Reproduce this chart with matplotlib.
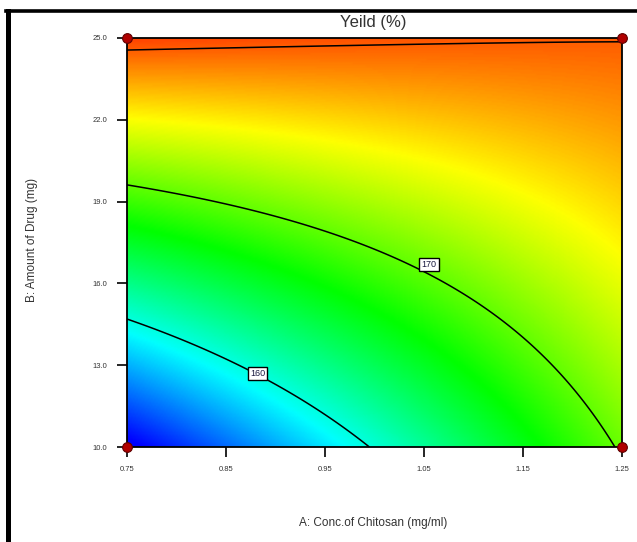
import numpy as np
import matplotlib
matplotlib.use("Agg")
import matplotlib.pyplot as plt
from matplotlib.colors import LinearSegmentedColormap
from matplotlib.lines import Line2D

plt.rcParams["font.family"] = ["Liberation Sans", "DejaVu Sans"]

# Response-surface model (coded units), fitted to contours
b0, bA, bB, bAB, bAA, bBB = 170.332, 4.769, 10.068, -5.170, 0.148, -0.058

x_range = [0.75, 1.25]
y_range = [10.0, 25.0]
x_ticks = [0.75, 0.85, 0.95, 1.05, 1.15, 1.25]
y_ticks = [10.0, 13.0, 16.0, 19.0, 22.0, 25.0]
levels = [160, 170, 180]
label_levels = [160, 170]
label_pos_x = [0.882, 1.055]
label_pos_y = [12.70, 16.70]
design_x = [0.75, 0.75, 1.25, 1.25]
design_y = [10.0, 25.0, 10.0, 25.0]

title = "Yeild (%)"
xlabel = "A: Conc.of Chitosan (mg/ml)"
ylabel = "B: Amount of Drug (mg)"

xg = np.linspace(x_range[0], x_range[1], 300)
yg = np.linspace(y_range[0], y_range[1], 300)
X, Y = np.meshgrid(xg, yg)
A = (X - 1.0) / 0.25
B = (Y - 17.5) / 7.5
Z = b0 + bA*A + bB*B + bAB*A*B + bAA*A*A + bBB*B*B

cmap = LinearSegmentedColormap.from_list(
    "de", [(0.0, "#0000ff"), (0.25, "#00ffff"), (0.5, "#00ff00"),
           (0.75, "#ffff00"), (1.0, "#ff0000")])

fig = plt.figure(figsize=(6.37, 5.42), dpi=100)
ax = fig.add_axes([127/637, 95/542, 495/637, 409/542])
ax.pcolormesh(X, Y, Z, cmap=cmap, vmin=151, vmax=183, shading="gouraud",
              rasterized=True)
ax.contour(X, Y, Z, levels=levels, colors="black", linewidths=1.1)
for lv, lx, ly in zip(label_levels, label_pos_x, label_pos_y):
    ax.text(lx, ly, str(lv), fontsize=6.5, color="#1a1a40", ha="center",
            va="center", zorder=5,
            bbox=dict(boxstyle="square,pad=0.25", fc="white", ec="black", lw=1))
ax.plot(design_x, design_y, "o", ms=7, mfc="#b00000", mec="#600000",
        mew=0.8, clip_on=False, zorder=6)

ax.set_xlim(x_range)
ax.set_ylim(y_range)
ax.set_xticks(x_ticks)
ax.set_xticklabels([f"{v:.2f}" for v in x_ticks])
ax.set_yticks(y_ticks)
ax.set_yticklabels([f"{v:.1f}" for v in y_ticks])
ax.tick_params(direction="out", length=7, width=1.2, labelsize=5.5,
               labelcolor="#333333", pad=7)
for s in ax.spines.values():
    s.set_linewidth(1.3)

fig.text(373/637, 1 - 22/542, title, fontsize=12, color="#333333",
         ha="center", va="center")
fig.text(373/637, 1 - 523/542, xlabel, fontsize=8.5, color="#333333",
         ha="center", va="center")
fig.text(32/637, 1 - 240/542, ylabel, fontsize=8.5, color="#333333",
         ha="center", va="center", rotation=90)

# outer frame (left and top)
fig.add_artist(Line2D([7.5/637, 7.5/637], [0, 1 - 11/542], color="black",
                      lw=3.6, transform=fig.transFigure))
fig.add_artist(Line2D([5.5/637, 1], [1 - 11/542, 1 - 11/542], color="black",
                      lw=2.6, transform=fig.transFigure))

fig.savefig("out.png", dpi=100)
